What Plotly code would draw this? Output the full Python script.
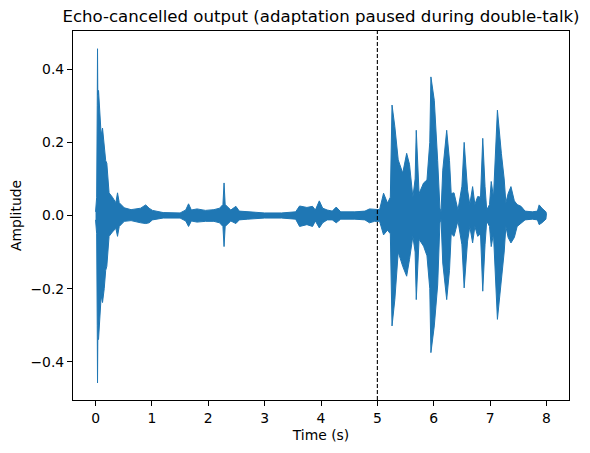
import plotly.graph_objects as go

# envelope of the echo-cancelled signal
times = [0.00, 0.02, 0.03, 0.035, 0.04, 0.053, 0.083, 0.10, 0.124, 0.154,
         0.18, 0.20, 0.24, 0.30, 0.36, 0.39, 0.42, 0.51, 0.63, 0.80,
         0.89, 0.95, 1.01, 1.20, 1.50, 1.60, 1.65, 1.70, 1.80, 1.95,
         2.10, 2.20, 2.26, 2.28, 2.30, 2.40, 2.49, 2.55, 2.70, 2.80,
         3.00, 3.30, 3.55, 3.62, 3.75, 3.85, 3.90, 3.97, 4.03, 4.11,
         4.20, 4.27, 4.35, 4.60, 4.78, 4.86, 4.95, 5.04, 5.11, 5.18,
         5.23, 5.26, 5.31, 5.37, 5.45, 5.52, 5.57, 5.63, 5.67, 5.69,
         5.74, 5.82, 5.88, 5.93, 5.95, 6.01, 6.07, 6.11, 6.13, 6.16,
         6.23, 6.28, 6.31, 6.36, 6.43, 6.50, 6.54, 6.60, 6.64, 6.69,
         6.73, 6.78, 6.83, 6.87, 6.91, 6.94, 6.99, 7.02, 7.06, 7.13,
         7.20, 7.25, 7.28, 7.32, 7.37, 7.43, 7.48, 7.55, 7.62, 7.75,
         7.84, 7.87, 7.92, 7.99, 8.00]

upper = [0.010, 0.050, 0.300, 0.456, 0.330, 0.342, 0.266, 0.220, 0.239, 0.179,
         0.150, 0.143, 0.062, 0.050, 0.035, 0.062, 0.035, 0.021, 0.016, 0.020,
         0.029, 0.020, 0.014, 0.008, 0.007, 0.015, 0.032, 0.015, 0.018, 0.014,
         0.016, 0.020, 0.030, 0.089, 0.030, 0.015, 0.025, 0.012, 0.010, 0.008,
         0.007, 0.007, 0.010, 0.026, 0.022, 0.025, 0.015, 0.040, 0.020, 0.015,
         0.012, 0.023, 0.010, 0.010, 0.012, 0.018, 0.016, 0.016, 0.061, 0.034,
         0.050, 0.302, 0.243, 0.152, 0.116, 0.170, 0.140, 0.050, 0.100, 0.233,
         0.060, 0.089, 0.097, 0.200, 0.379, 0.315, 0.150, 0.020, 0.010, 0.124,
         0.233, 0.150, 0.060, 0.062, 0.015, 0.080, 0.200, 0.070, 0.030, 0.079,
         0.030, 0.052, 0.050, 0.211, 0.080, 0.015, 0.030, 0.093, 0.050, 0.288,
         0.170, 0.100, 0.035, 0.060, 0.079, 0.040, 0.030, 0.025, 0.012, 0.010,
         0.012, 0.029, 0.020, 0.010, 0.005]

lower = [-0.012, -0.050, -0.300, -0.458, -0.340, -0.339, -0.275, -0.220, -0.238, -0.200,
         -0.150, -0.139, -0.057, -0.045, -0.035, -0.057, -0.030, -0.016, -0.014, -0.020,
         -0.022, -0.020, -0.012, -0.007, -0.007, -0.015, -0.030, -0.015, -0.018, -0.016,
         -0.016, -0.020, -0.030, -0.085, -0.030, -0.015, -0.022, -0.012, -0.010, -0.008,
         -0.007, -0.007, -0.010, -0.030, -0.025, -0.030, -0.015, -0.034, -0.020, -0.012,
         -0.012, -0.020, -0.010, -0.010, -0.012, -0.020, -0.016, -0.016, -0.053, -0.040,
         -0.050, -0.302, -0.230, -0.100, -0.139, -0.166, -0.120, -0.057, -0.100, -0.230,
         -0.065, -0.084, -0.110, -0.200, -0.375, -0.302, -0.190, -0.020, -0.010, -0.130,
         -0.230, -0.150, -0.050, -0.057, -0.015, -0.080, -0.198, -0.070, -0.030, -0.075,
         -0.030, -0.057, -0.050, -0.207, -0.080, -0.015, -0.030, -0.085, -0.050, -0.284,
         -0.170, -0.100, -0.030, -0.060, -0.075, -0.060, -0.030, -0.020, -0.012, -0.010,
         -0.012, -0.025, -0.020, -0.010, -0.005]

double_talk_start = 5.0

blue = '#1f77b4'
font = 'DejaVu Sans'

fig = go.Figure()

fig.add_trace(go.Scatter(x=times + times[::-1], y=upper + lower[::-1],
                         fill='toself', fillcolor=blue,
                         mode='lines', line=dict(color=blue, width=1),
                         hoverinfo='skip', showlegend=False))

fig.add_vline(x=double_talk_start, line_color='black', line_width=1.1,
              line_dash='4px,2px')

# the page body has an 8px margin, so the figure is drawn 8px smaller
fig.update_layout(
    width=574, height=437,
    margin=dict(l=65, r=13, t=23, b=45, autoexpand=False),
    paper_bgcolor='white', plot_bgcolor='white',
    font=dict(family=font, size=13.9, color='black'),
    title=dict(text='Echo-cancelled output (adaptation paused during double-talk)',
               font=dict(size=16.6, color='black'),
               x=0.5, xref='paper', xanchor='center',
               y=1 - 8 / 437, yref='container', yanchor='middle'),
    xaxis=dict(range=[-0.4, 8.4], tickvals=[0, 1, 2, 3, 4, 5, 6, 7, 8],
               automargin=False,
               showgrid=False, zeroline=False,
               showline=True, linecolor='black', linewidth=1.1, mirror=True,
               ticks='outside', ticklen=5, tickwidth=1.1, tickcolor='black',
               title=dict(text='Time (s)', standoff=5,
                          font=dict(size=13.9, color='black'))),
    yaxis=dict(range=[-0.5045, 0.5045], tickvals=[-0.4, -0.2, 0.0, 0.2, 0.4],
               tickformat='.1f', automargin=False,
               showgrid=False, zeroline=False,
               showline=True, linecolor='black', linewidth=1.1, mirror=True,
               ticks='outside', ticklen=5, tickwidth=1.1, tickcolor='black',
               title=dict(text='Amplitude', standoff=10,
                          font=dict(size=13.9, color='black'))),
)

fig.write_html("out.html")
